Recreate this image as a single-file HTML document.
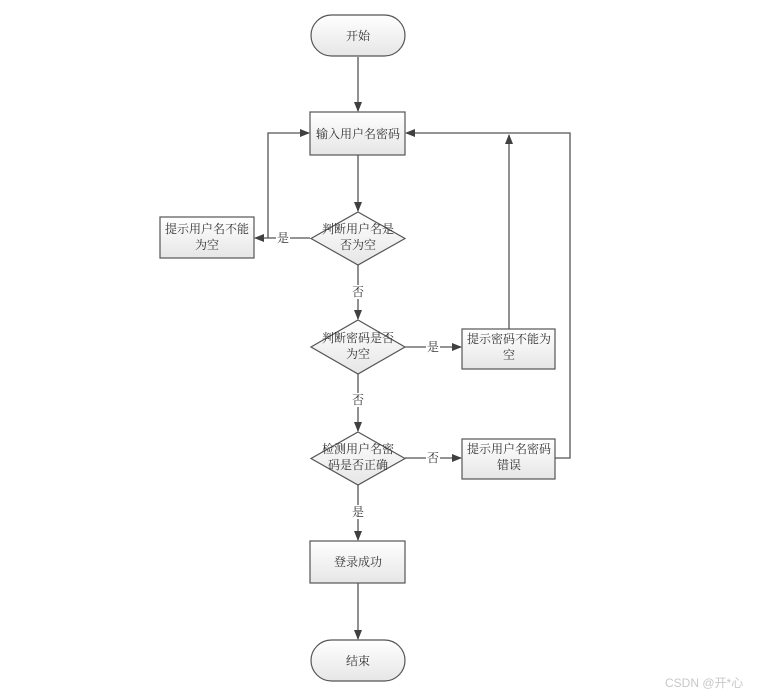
<!DOCTYPE html>
<html><head><meta charset="utf-8"><style>
html,body{margin:0;padding:0;background:#fff;}
text{font-family:"Liberation Serif","Noto Serif CJK SC",serif;font-size:12px;fill:#333;}
</style></head><body>
<svg width="759" height="695" viewBox="0 0 759 695" xmlns="http://www.w3.org/2000/svg">
<defs>
<linearGradient id="g" x1="0" y1="0" x2="0" y2="1"><stop offset="0" stop-color="#ffffff"/><stop offset="1" stop-color="#e6e6e6"/></linearGradient>
<marker id="a" markerWidth="10" markerHeight="8" refX="9" refY="4" orient="auto" markerUnits="userSpaceOnUse"><path d="M0,0 L10,4 L0,8 z" fill="#404040"/></marker>
</defs>
<g stroke="#555" stroke-width="1.3" fill="none">
<line x1="358" y1="57" x2="358" y2="111" marker-end="url(#a)"/>
<line x1="358" y1="155" x2="358" y2="211" marker-end="url(#a)"/>
<line x1="310" y1="238" x2="255" y2="238" marker-end="url(#a)"/>
<polyline points="268,238 268,133 309,133" marker-end="url(#a)"/>
<line x1="358" y1="265" x2="358" y2="319" marker-end="url(#a)"/>
<line x1="405" y1="347" x2="461" y2="347" marker-end="url(#a)"/>
<line x1="509" y1="329" x2="509" y2="135" marker-end="url(#a)"/>
<line x1="358" y1="374" x2="358" y2="431" marker-end="url(#a)"/>
<line x1="405" y1="458" x2="461" y2="458" marker-end="url(#a)"/>
<polyline points="555,458 570,458 570,133 406,133" marker-end="url(#a)"/>
<line x1="358" y1="485" x2="358" y2="540" marker-end="url(#a)"/>
<line x1="358" y1="583" x2="358" y2="639" marker-end="url(#a)"/>
</g>
<g fill="#fff" stroke="none">
<rect x="276" y="231" width="14" height="14"/>
<rect x="351" y="285" width="14" height="14"/>
<rect x="426" y="340" width="14" height="14"/>
<rect x="351" y="393" width="14" height="14"/>
<rect x="426" y="451" width="14" height="14"/>
<rect x="351" y="505" width="14" height="14"/>
</g>
<g stroke="#555" stroke-width="1.2" fill="url(#g)">
<rect x="311" y="15" width="94" height="41" rx="20.5"/>
<rect x="310" y="112" width="95" height="43"/>
<polygon points="358,212 405,238.5 358,265 311,238.5"/>
<rect x="160" y="217" width="94" height="41"/>
<polygon points="358,320 405,347 358,374 311,347"/>
<rect x="462" y="329" width="93" height="40"/>
<polygon points="358,432 405,458.5 358,485 311,458.5"/>
<rect x="462" y="439" width="93" height="40"/>
<rect x="310" y="541" width="95" height="42"/>
<rect x="311" y="640" width="94" height="41" rx="20.5"/>
</g>
<g text-anchor="middle">
<text x="358" y="40">开始</text>
<text x="358" y="138">输入用户名密码</text>
<text x="358" y="233">判断用户名是</text>
<text x="358" y="249">否为空</text>
<text x="207" y="233">提示用户名不能</text>
<text x="207" y="249">为空</text>
<text x="358" y="342">判断密码是否</text>
<text x="358" y="358">为空</text>
<text x="509" y="343">提示密码不能为</text>
<text x="509" y="359">空</text>
<text x="358" y="453">检测用户名密</text>
<text x="358" y="469">码是否正确</text>
<text x="509" y="453">提示用户名密码</text>
<text x="509" y="469">错误</text>
<text x="358" y="566">登录成功</text>
<text x="358" y="665">结束</text>
<text x="283" y="242">是</text>
<text x="358" y="296">否</text>
<text x="433" y="351">是</text>
<text x="358" y="404">否</text>
<text x="433" y="462">否</text>
<text x="358" y="516">是</text>
</g>
<text x="665" y="687" style="font-family:'Liberation Sans','Noto Sans CJK SC',sans-serif;font-size:12px;fill:#c8c8c8">CSDN @开*心</text>
</svg>
</body></html>
